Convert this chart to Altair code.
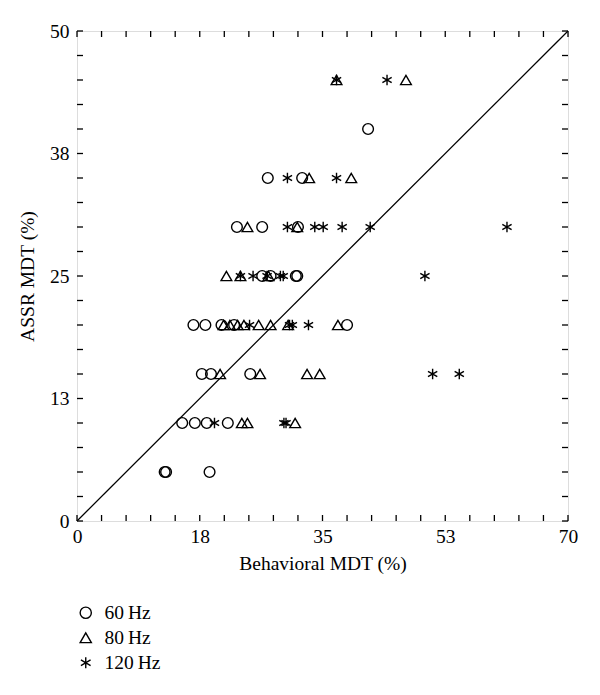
import altair as alt
import pandas as pd

# ---- data ----
hz60_x = [41.5, 27.2, 32.1, 22.8, 26.4, 31.5, 26.4, 27.6, 31.2, 31.4,
          16.6, 18.3, 20.6, 22.4, 38.5, 17.8, 19.1, 24.7,
          15.0, 16.8, 18.5, 21.5, 12.5, 12.7, 18.9]
hz60_y = [40, 35, 35, 30, 30, 30, 25, 25, 25, 25,
          20, 20, 20, 20, 20, 15, 15, 15,
          10, 10, 10, 10, 5, 5, 5]

hz80_x = [37.0, 46.9, 33.1, 39.1, 24.3, 31.4, 21.3, 23.3, 27.3,
          20.9, 21.8, 22.9, 23.8, 25.9, 27.6, 30.1, 37.2,
          20.4, 26.1, 32.8, 34.6, 23.5, 24.3, 31.1]
hz80_y = [45, 45, 35, 35, 30, 30, 25, 25, 25,
          20, 20, 20, 20, 20, 20, 20, 20,
          15, 15, 15, 15, 10, 10, 10]

hz120_x = [37.0, 44.2, 30.0, 37.0, 30.0, 33.9, 35.1, 37.8, 41.8, 61.3,
           23.3, 25.1, 27.1, 29.0, 29.4, 49.6,
           24.6, 30.3, 30.7, 33.0, 50.7, 54.5, 19.6, 29.5, 29.8]
hz120_y = [45, 45, 35, 35, 30, 30, 30, 30, 30, 30,
           25, 25, 25, 25, 25, 25,
           20, 20, 20, 20, 15, 15, 10, 10, 10]

series_names = ["60\u2009Hz", "80\u2009Hz", "120\u2009Hz"]

x_tick_values = [0, 17.5, 35, 52.5, 70]
x_tick_labels = ["0", "18", "35", "53", "70"]
y_tick_values = [0, 12.5, 25, 37.5, 50]
y_tick_labels = ["0", "13", "25", "38", "50"]

x_minor_ticks = [0, 3.5, 7, 10.5, 14, 17.5, 21, 24.5, 28, 31.5, 35, 38.5,
                 42, 45.5, 49, 52.5, 56, 59.5, 63, 66.5, 70]
y_minor_ticks = [0, 2.5, 5, 7.5, 10, 12.5, 15, 17.5, 20, 22.5, 25, 27.5,
                 30, 32.5, 35, 37.5, 40, 42.5, 45, 47.5, 50]

diag_x = [0, 70]
diag_y = [0, 50]

# ---- build tables ----
rows = []
for name, xs, ys in zip(series_names, [hz60_x, hz80_x, hz120_x], [hz60_y, hz80_y, hz120_y]):
    for a, b in zip(xs, ys):
        rows.append({"x": a, "y": b, "series": name})
pts = pd.DataFrame(rows)
diag = pd.DataFrame({"x": diag_x, "y": diag_y})
xt = pd.DataFrame({"x": x_minor_ticks})
yt = pd.DataFrame({"y": y_minor_ticks})

W, H = 491, 490
TL = 6
FONT = "Liberation Serif"
FS = 19.5

def label_expr(vals, labs):
    parts = " : ".join(f"datum.value == {v} ? '{l}'" for v, l in zip(vals, labs))
    return parts + " : ''"

xscale = alt.Scale(domain=[0, 70], nice=False, zero=False)
yscale = alt.Scale(domain=[0, 50], nice=False, zero=False)

xaxis = alt.Axis(values=x_tick_values, labelExpr=label_expr(x_tick_values, x_tick_labels),
                 title="Behavioral MDT (%)", tickSize=0, domain=False, grid=False,
                 labelFont=FONT, labelFontSize=FS, labelColor="black", labelPadding=6,
                 titleFont=FONT, titleFontSize=FS, titleFontWeight="normal", titleColor="black",
                 titlePadding=9, labelFlush=False)
yaxis = alt.Axis(values=y_tick_values, labelExpr=label_expr(y_tick_values, y_tick_labels),
                 title="ASSR MDT (%)", tickSize=0, domain=False, grid=False,
                 labelFont=FONT, labelFontSize=FS, labelColor="black", labelPadding=8,
                 titleFont=FONT, titleFontSize=FS, titleFontWeight="normal", titleColor="black",
                 titlePadding=12, labelFlush=False)

asterisk = "M0,-1L0,1M-0.866,-0.5L0.866,0.5M-0.866,0.5L0.866,-0.5"

shape_scale = alt.Scale(domain=series_names, range=["circle", "triangle-up", asterisk])

points = alt.Chart(pts).mark_point(filled=False, size=115, opacity=1, color="black").encode(
    x=alt.X("x:Q", scale=xscale, axis=xaxis),
    y=alt.Y("y:Q", scale=yscale, axis=yaxis),
    shape=alt.Shape("series:N", scale=shape_scale,
                    legend=alt.Legend(title=None, orient="none", legendX=-1, legendY=572,
                                      labelFont=FONT, labelFontSize=FS, labelColor="black",
                                      labelOffset=9, rowPadding=4, symbolSize=125,
                                      symbolStrokeColor="black", symbolStrokeWidth=1.5,
                                      symbolFillColor="transparent", padding=0)),
    strokeWidth=alt.StrokeWidth("series:N",
                                scale=alt.Scale(domain=series_names, range=[1.4, 1.4, 2.0]),
                                legend=None),
)

line = alt.Chart(diag).mark_line(color="black", strokeWidth=1.3).encode(
    x=alt.X("x:Q", scale=xscale), y=alt.Y("y:Q", scale=yscale))

rule_style = dict(color="black", strokeWidth=1.3)
bt = alt.Chart(xt).mark_rule(**rule_style).encode(x=alt.X("x:Q", scale=xscale), y=alt.value(H), y2=alt.value(H - TL))
tt = alt.Chart(xt).mark_rule(**rule_style).encode(x=alt.X("x:Q", scale=xscale), y=alt.value(0), y2=alt.value(TL))
lt = alt.Chart(yt).mark_rule(**rule_style).encode(y=alt.Y("y:Q", scale=yscale), x=alt.value(0), x2=alt.value(TL))
rt = alt.Chart(yt).mark_rule(**rule_style).encode(y=alt.Y("y:Q", scale=yscale), x=alt.value(W), x2=alt.value(W - TL))

chart = alt.layer(line, bt, tt, lt, rt, points).properties(
    width=W, height=H,
    autosize=alt.AutoSizeParams(type="none"),
    padding={"left": 69, "top": 23, "right": 20, "bottom": 160},
).configure_view(stroke="black", strokeWidth=1.5).configure(background="white")

chart.save("out.html", embed_options={"renderer": "svg", "actions": False})
